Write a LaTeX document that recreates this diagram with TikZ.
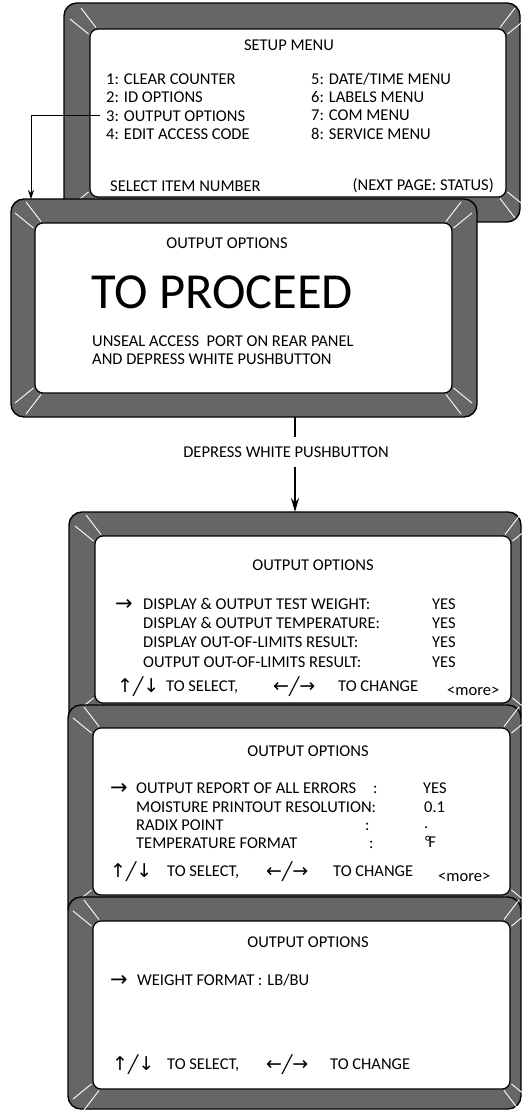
\documentclass[tikz,border=0pt]{standalone}
\usepackage{fontspec}
\setmainfont{Carlito}
\newfontfamily\symfont{DejaVu Sans}
\usetikzlibrary{arrows.meta}

\definecolor{framegray}{RGB}{102,102,102}
\newcommand\lcd{\fontsize{16.5}{19}\selectfont}
\newcommand\slant{{\fontsize{17}{19}\selectfont ╱}}
\newcommand\updown{{\symfont\fontsize{19}{19}\selectfont ↑\slant↓}}
\newcommand\leftright{{\symfont\fontsize{19}{19}\selectfont ←\slant→}}

% white reflections at the four corners of a screen
\newcommand\glints[1]{%
  \foreach \sx/\sy/\c in {1/1/north west, -1/1/north east, 1/-1/south west, -1/-1/south east} {
    \draw[glint] ([shift={({-9*\sx},{-21*\sy})}]#1.\c) -- ([shift={({6*\sx},{-1.5*\sy})}]#1.\c);
    \draw[glint] ([shift={({-20*\sx},{-10*\sy})}]#1.\c) -- ([shift={({-1.5*\sx},{5*\sy})}]#1.\c);
  }}

\begin{document}
\begin{tikzpicture}[
  x=1pt, y=-1pt,
  frame/.style={draw=black, line width=1.4pt, fill=framegray, rounded corners=13pt, inner sep=0pt, outer sep=0pt},
  screen/.style={draw=black, line width=1.2pt, fill=white, rounded corners=8pt, inner sep=0pt, outer sep=0pt},
  glint/.style={white, line width=0.9pt},
  txt/.style={inner sep=0pt, anchor=base west, font=\lcd},
  title/.style={inner sep=0pt, anchor=base, font=\lcd},
  pointer/.style={inner sep=0pt, anchor=base west, font=\symfont\fontsize{21}{19}\selectfont},
  caption/.style={inner xsep=0pt, text height=10.6pt, text depth=0pt, minimum height=29pt, font=\lcd}
]
\useasboundingbox[fill=white] (0,0) rectangle (522,1111);

% setup menu
\node[frame, minimum width=456pt, minimum height=219pt] (p1) at (292,112.5) {};
\node[screen, minimum width=416pt, minimum height=168pt] (s1) at (298,113) {};
\glints{s1}
\node[title] (t1) at (289,50.5) {SETUP MENU};
\node[txt] (item1) at (106,84) {1: CLEAR COUNTER};
\node[txt] (item2) at (106,102.5) {2: ID OPTIONS};
\node[txt] (item3) at (106,121) {3: OUTPUT OPTIONS};
\node[txt] (item4) at (106,139.5) {4: EDIT ACCESS CODE};
\node[txt] (item5) at (311,84) {5: DATE/TIME MENU};
\node[txt] (item6) at (311,102.5) {6: LABELS MENU};
\node[txt] (item7) at (311,120.5) {7: COM MENU};
\node[txt] (item8) at (311,139) {8: SERVICE MENU};
\node[txt] (select1) at (110,191) {SELECT ITEM NUMBER};
\node[txt, anchor=base east] (next1) at (494,190) {(NEXT PAGE: STATUS)};

% to proceed
\node[frame, minimum width=466pt, minimum height=218pt] (p2) at (244,308) {};
\node[screen, minimum width=417pt, minimum height=170pt] (s2) at (243.5,308) {};
\glints{s2}
\node[title] (t2) at (227,248) {OUTPUT OPTIONS};
\node[txt, font=\fontsize{50.5}{52}\selectfont] (proceed) at (91,308) {TO PROCEED};
\node[txt] (unseal) at (92,346.5) {UNSEAL ACCESS\ \ PORT ON REAR PANEL};
\node[txt] (depress) at (92,364) {AND DEPRESS WHITE PUSHBUTTON};

% output options, page 1
\node[frame, minimum width=452pt, minimum height=216pt] (p3) at (295,620) {};
\node[screen, minimum width=416pt, minimum height=167pt] (s3) at (303,619.5) {};
\glints{s3}
\node[title] (t3) at (313,570.5) {OUTPUT OPTIONS};
\node[pointer] (ptr3) at (115,610.5) {→};
\node[txt] (opt31) at (143,609) {DISPLAY \& OUTPUT TEST WEIGHT:};
\node[txt] (opt32) at (143,628.5) {DISPLAY \& OUTPUT TEMPERATURE:};
\node[txt] (opt33) at (143,647.5) {DISPLAY OUT-OF-LIMITS RESULT:};
\node[txt] (opt34) at (143,667) {OUTPUT OUT-OF-LIMITS RESULT:};
\node[txt] (val31) at (432,609) {YES};
\node[txt] (val32) at (432,628.5) {YES};
\node[txt] (val33) at (432,647.5) {YES};
\node[txt] (val34) at (432,667) {YES};
\node[txt] (ud3) at (117,692) {\updown};
\node[txt] (sel3) at (166,691) {TO SELECT,};
\node[txt] (lr3) at (273,692) {\leftright};
\node[txt] (chg3) at (338,691) {TO CHANGE};
\node[txt] (more3) at (447,695) {<more>};

% output options, page 2
\node[frame, minimum width=453pt, minimum height=215pt] (p4) at (294.5,812.5) {};
\node[screen, minimum width=417pt, minimum height=167pt] (s4) at (301.5,811.5) {};
\glints{s4}
\node[title] (t4) at (308,756.5) {OUTPUT OPTIONS};
\node[pointer] (ptr4) at (110,794.5) {→};
\node[txt] (opt41) at (136,793) {OUTPUT REPORT OF ALL ERRORS};
\node[txt] (col41) at (373,793) {:};
\node[txt] (opt42) at (136,812) {MOISTURE PRINTOUT RESOLUTION:};
\node[txt] (opt43) at (136,830) {RADIX POINT};
\node[txt] (col43) at (365,830) {:};
\node[txt] (opt44) at (136,848) {TEMPERATURE FORMAT};
\node[txt] (col44) at (369,848) {:};
\node[txt] (val41) at (423,793) {YES};
\node[txt] (val42) at (424,812) {0.1};
\node[txt] (val43) at (424,828) {.};
\node[txt] (val44) at (425,847) {°\kern-2.5pt F};
\node[txt] (ud4) at (110,877) {\updown};
\node[txt] (sel4) at (167,876) {TO SELECT,};
\node[txt] (lr4) at (266,877) {\leftright};
\node[txt] (chg4) at (333,876) {TO CHANGE};
\node[txt] (more4) at (438,881) {<more>};

% output options, page 3
\node[frame, minimum width=453pt, minimum height=212pt] (p5) at (294.5,1003) {};
\node[screen, minimum width=417pt, minimum height=168pt] (s5) at (301.5,1005) {};
\glints{s5}
\node[title] (t5) at (308,947) {OUTPUT OPTIONS};
\node[pointer] (ptr5) at (110,986.5) {→};
\node[txt] (opt51) at (137,985) {WEIGHT FORMAT :\hspace{5pt}LB/BU};
\node[txt] (ud5) at (112,1070) {\updown};
\node[txt] (sel5) at (167,1069) {TO SELECT,};
\node[txt] (lr5) at (266,1070) {\leftright};
\node[txt] (chg5) at (330,1069) {TO CHANGE};

% connectors
\draw[line width=1pt, -{Stealth[length=9pt, width=6pt]}] ([xshift=-6pt]item3.west) -| ([xshift=20pt]p2.north west);
\node[caption] (push) at (286,452) {DEPRESS WHITE PUSHBUTTON};
\draw[line width=2pt] (p2.south -| p3.north) -- (push.north -| p3.north);
\draw[line width=2pt, -{Stealth[length=14pt, width=8pt]}] (push.south -| p3.north) -- (p3.north);
\end{tikzpicture}
\end{document}
